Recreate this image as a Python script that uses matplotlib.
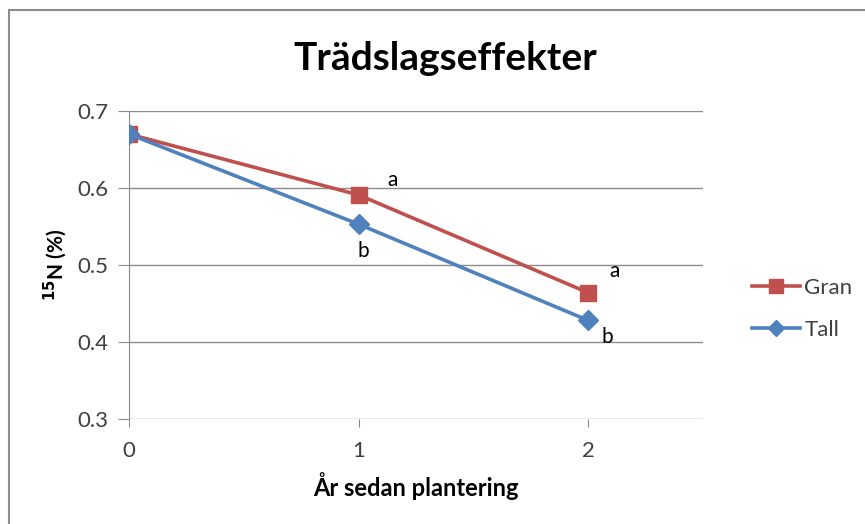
import matplotlib
matplotlib.use("Agg")
import matplotlib.pyplot as plt
from matplotlib.patches import Rectangle

years = [0, 1, 2]
gran = [0.670, 0.591, 0.464]
tall = [0.670, 0.553, 0.428]
gran_letters = ["", "a", "a"]
tall_letters = ["", "b", "b"]
yticks = [0.3, 0.4, 0.5, 0.6, 0.7]
xticks = [0, 1, 2]

plt.rcParams['font.family'] = ['Lato', 'DejaVu Sans']

fig = plt.figure(figsize=(8.65, 5.24), dpi=100)
ax = fig.add_axes([129/865, 1-419/524, (703-129)/865, (419-111)/524])

red = '#C0504D'
blue = '#4F81BD'
ax.plot(years, gran, color=red, lw=2.6, marker='s', ms=12, label='Gran', zorder=3)
ax.plot(years, tall, color=blue, lw=2.6, marker='D', ms=10, label='Tall', zorder=4)

for x, y, t in zip(years, gran, gran_letters):
    if t:
        off = (34, 15) if x == 1 else (26, 22)
        ax.annotate(t, (x, y), xytext=off, textcoords='offset pixels',
                    ha='center', va='center', fontsize=15, color='black')
for x, y, t in zip(years, tall, tall_letters):
    if t:
        off = (5, -27) if x == 1 else (19, -17)
        ax.annotate(t, (x, y), xytext=off, textcoords='offset pixels',
                    ha='center', va='center', fontsize=15, color='black')

ax.set_xlim(0, 2.5)
ax.set_ylim(0.3, 0.7)
ax.set_yticks(yticks)
ax.set_yticklabels([f"{v:.1f}" for v in yticks])
ax.set_xticks(xticks)
ax.yaxis.grid(True, color='#8c8c8c', lw=1)
ax.set_axisbelow(True)
for s in ['top', 'right', 'bottom']:
    ax.spines[s].set_visible(False)
ax.spines['left'].set_color('#8c8c8c')
ax.spines['left'].set_bounds(0.3, 0.7)
ax.tick_params(axis='y', length=8, color='#8c8c8c', labelsize=16, labelcolor='#404040', pad=7)
ax.tick_params(axis='x', length=6, color='#8c8c8c', labelsize=16, labelcolor='#404040', pad=10)
ax.set_xlabel('År sedan plantering', fontsize=17, fontweight='bold', labelpad=8)
ax.set_ylabel(r'$^{\mathbf{15}}$N (%)', fontsize=15, fontweight='bold', labelpad=6)

fig.text(445/865, 1-58/524, 'Trädslagseffekter', ha='center', va='center',
         fontsize=28, fontweight='bold')

leg = ax.legend(loc='upper left', bbox_to_anchor=(752/865, 1-278/524),
                bbox_transform=fig.transFigure, frameon=False, fontsize=16,
                handlelength=2.15, labelspacing=1.0, handletextpad=0.2,
                borderpad=0, borderaxespad=0, markerscale=0.85)
for t in leg.get_texts():
    t.set_color('#404040')

fig.patches.append(Rectangle((9/865, -0.1), 1.2, 1 - 10/524 + 0.1,
                             transform=fig.transFigure, fill=False,
                             edgecolor='#8c8c8c', lw=1.5))

fig.savefig('out.png', dpi=100)
